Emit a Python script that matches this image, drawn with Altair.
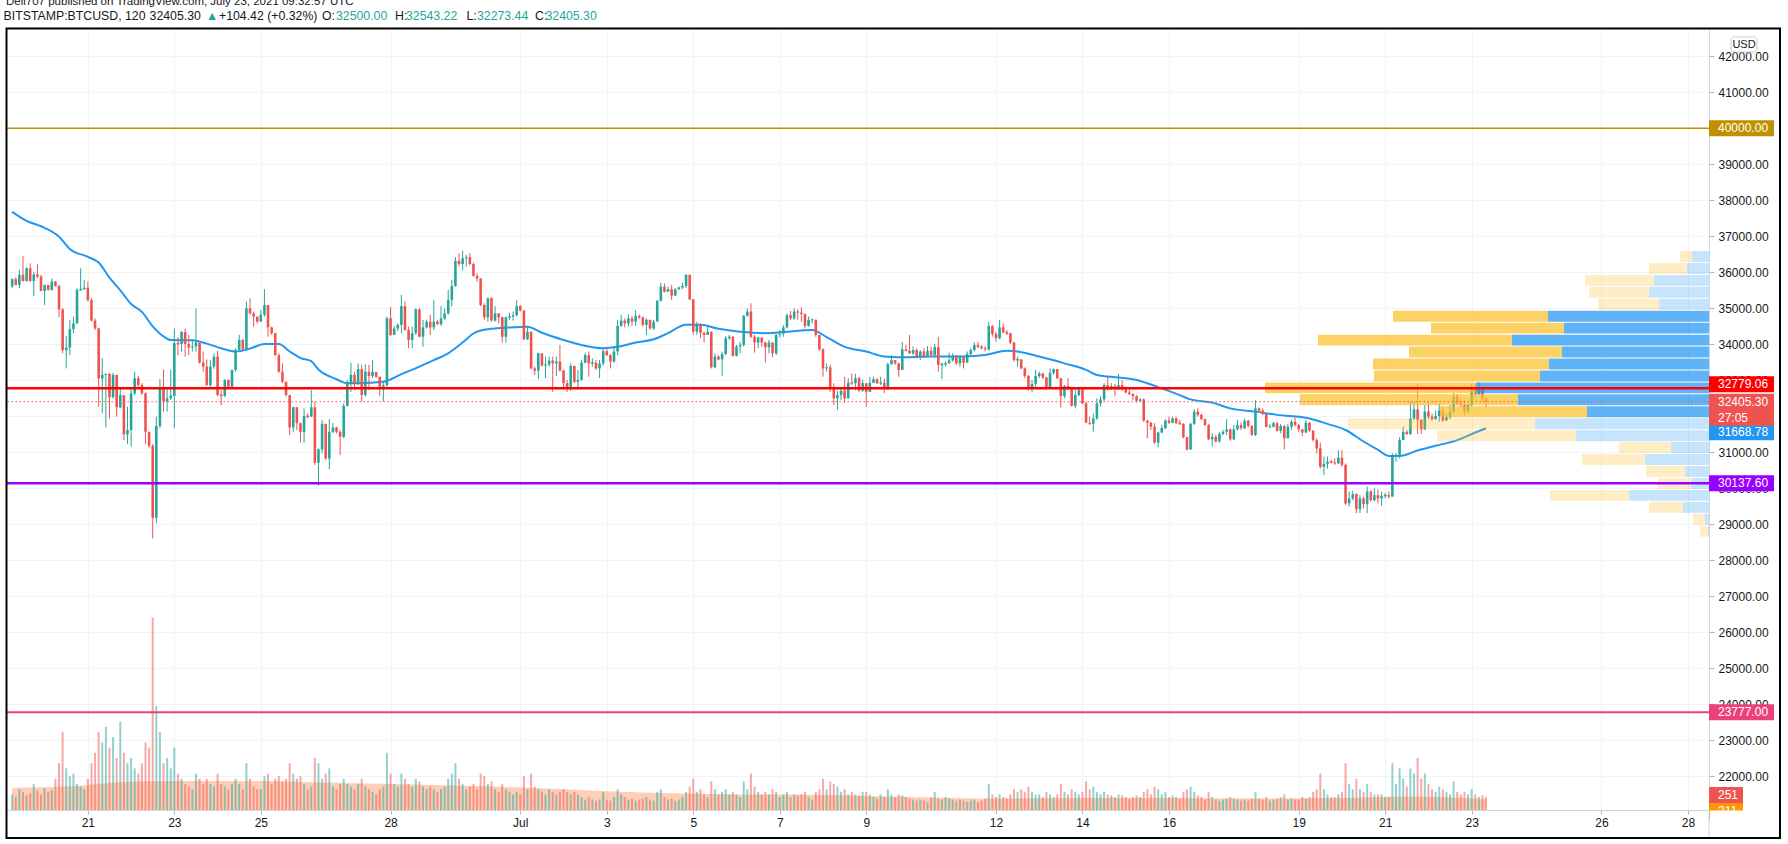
import altair as alt
import pandas as pd
from datetime import datetime, timedelta

# ---------------- data (BITSTAMP:BTCUSD, 2h candles) ----------------
START = "2021-06-19T06:00:00"
first_open = 35610
closes = [
35810, 35650, 35930, 35760, 36110, 35760, 35940, 35880, 35480, 35650,
35510, 35740, 35620, 34970, 33840, 33910, 34420, 34580, 35510, 35530,
35570, 35230, 34660, 34440, 33050, 33150, 33180, 32530, 33150, 32250,
32590, 31500, 31620, 32640, 33060, 32870, 32640, 31570, 31180, 29180,
31730, 32780, 32410, 32500, 32570, 34030, 34010, 34340, 34010, 33910,
33940, 34050, 33490, 33380, 32870, 33380, 33660, 32590, 32570, 33010,
32820, 33290, 33840, 34120, 33860, 35000, 34860, 34770, 34630, 34820,
35090, 34470, 34310, 33700, 33240, 32960, 32590, 31690, 32250, 31810,
31570, 32010,
31990, 32250, 30710, 31080, 31790, 30830, 31570, 31690, 31570, 31430,
32290, 32940, 33150, 32920, 33310, 32590, 33240, 33120, 33230, 33100,
32820, 32870, 34720, 34260, 34440, 34540, 35060, 34400, 34120, 34310,
34970, 34210, 34470, 34630, 34470, 34630, 34560, 34720, 34860, 35230,
35620, 36320, 36230, 36390, 36420, 36230, 35900, 35830, 35090, 34750,
35280, 34660, 34860, 34750, 34210, 34750, 34770, 34810, 35060, 34940,
34140, 34350, 33330, 33270, 33750, 33410, 33440, 33550, 33470, 33520,
33270, 32920, 32820, 33400, 32960, 33010, 33490, 33700, 33470, 33490,
33330, 33470,
33810, 33700, 33520, 33800, 34510, 34660, 34580, 34720, 34630, 34790,
34750, 34540, 34680, 34440, 34630, 35210, 35600, 35460, 35530, 35350,
35530, 35580, 35620, 35930, 35250, 34350, 34560, 34320, 34260, 34350,
33360, 33660, 33580, 33730, 34170, 34210, 33680, 33940, 33980, 34790,
34910, 34210, 34050, 34190, 34050, 33920, 34050, 33750, 34260, 34290,
34470, 34810, 34720, 34910, 34880, 34840, 34510, 34680, 34680, 34260,
33860, 33330, 33360, 32810, 32500, 32590, 32710, 32500, 32930, 32920,
33060, 32710, 32920, 32680, 32930, 33030, 32920, 32930, 32780, 33450,
33560, 33470, 33290,
33860, 33820, 33750, 33840, 33660, 33800, 33680, 33820, 33700, 33920,
33430, 33450, 33470, 33550, 33680, 33470, 33630, 33490, 33730, 33840,
33980, 33930, 33890, 33860, 34510, 34290, 34170, 34470, 34330, 34310,
34050, 33560, 33580, 33330, 33120, 32810, 32900, 33120, 33190, 33080,
32810, 33210, 33310, 33060, 32560, 32840, 32810, 32290, 32590, 32750,
32360, 31820, 31790, 31940, 32360, 32470, 32870, 32750, 32840, 32750,
32870, 32750, 32660, 32620, 32560, 32430, 32470, 31880, 31820, 31710,
31270, 31550, 31670, 31880, 31820, 31940, 31810, 31790, 31420, 31080,
31790, 32130, 32040,
31920, 31760, 31360, 31430, 31300, 31510, 31570, 31640, 31360, 31640,
31760, 31670, 31880, 31730, 31480, 32220, 32160, 32060, 31710, 31710,
31810, 31600, 31730, 31390, 31710, 31850, 31760, 31640, 31550, 31820,
31600, 31340, 31110, 30600, 30680, 30740, 30720, 30690, 30850, 30650,
29580, 29720, 29840, 29420, 29720, 29560, 29910, 29670, 29810, 29720,
29790, 29810, 29770, 30880, 30930, 31340, 31570, 31510, 31940, 32190,
31900, 31640, 32130, 31990, 31920, 32010, 32160, 31880, 31970, 32130,
32550, 32360, 32310, 32130, 32310, 32780, 32620, 32780, 32500, 32405.30,
]
highs = [
35830, 35860, 36070, 36450, 36140, 36250, 36020, 36230, 35930, 35650,
35650, 35830, 35760, 35650, 35000, 34230, 34680, 34770, 35560, 36110,
35790, 35740, 35280, 34720, 34460, 33610, 33190, 33210, 33210, 33150,
32820, 32590, 32270, 32820, 33240, 33120, 32920, 32660, 31570, 31230,
31990, 33030, 33300, 32820, 33290, 34440, 34210, 34370, 34440, 34260,
34120, 35000, 34060, 33800, 33580, 33560, 33750, 33820, 32730, 33030,
33030, 33290, 33890, 34260, 34150, 35190, 35280, 34910, 34770, 34950,
35530, 35090, 34490, 34310, 33750, 33470, 32960, 32590, 32270, 32260,
31820, 32220,
32080, 32730, 32410, 31110, 31900, 31760, 31920, 31810, 31710, 31620,
32360, 33010, 33490, 33240, 33470, 33430, 33450, 33430, 33560, 33240,
33030, 32960, 34770, 35030, 34510, 34580, 35370, 35190, 34490, 34490,
35000, 35000, 34680, 34680, 34820, 35230, 34680, 35060, 35000, 35510,
35790, 36420, 36530, 36600, 36480, 36530, 36270, 35970, 35810, 35140,
35300, 35310, 35060, 34860, 34770, 34770, 34880, 34910, 35230, 35090,
34950, 34490, 34350, 33380, 33770, 33700, 33660, 33660, 33660, 33660,
33980, 33290, 33010, 33470, 33400, 33290, 33560, 33770, 33800, 33610,
33560, 33560,
33890, 33910, 33730, 33890, 34680, 34820, 34720, 34830, 34790, 34950,
34830, 34770, 34720, 34680, 34680, 35230, 35710, 35690, 35600, 35650,
35560, 35600, 35710, 35950, 35930, 35250, 34630, 34580, 34350, 34510,
34350, 33750, 33700, 33800, 34230, 34260, 34230, 33980, 34070, 34820,
35000, 35140, 34260, 34210, 34170, 34070, 34120, 34050, 34290, 34400,
34540, 34860, 34930, 35000, 34970, 35030, 34860, 34770, 34720, 34690,
34260, 33890, 33470, 33430, 32920, 32710, 32750, 33100, 33060, 33190,
33180, 33100, 33010, 32920, 33100, 33100, 33060, 33100, 33050, 33490,
33700, 33560, 33490,
34070, 33980, 34260, 33940, 33890, 33840, 33890, 33950, 33930, 34010,
34210, 33490, 33520, 33770, 33750, 33700, 33700, 33660, 33800, 33890,
34050, 34070, 33980, 33950, 34630, 34540, 34350, 34680, 34580, 34400,
34320, 34070, 33660, 33580, 33360, 33150, 33010, 33290, 33240, 33210,
33100, 33330, 33330, 33310, 33060, 32870, 33060, 32820, 32780, 32820,
32780, 32410, 31990, 32080, 32500, 32550, 32920, 33100, 32920, 32900,
33180, 33010, 32820, 32730, 32640, 32590, 32500, 32500, 31900, 31850,
31810, 31570, 31760, 31920, 31990, 31990, 31990, 31900, 31810, 31430,
31820, 32200, 32220,
32080, 31940, 31790, 31530, 31480, 31570, 31620, 31920, 31660, 31760,
31900, 31820, 31940, 31900, 31760, 32450, 32250, 32220, 32080, 31790,
31850, 31850, 31790, 31760, 31790, 31900, 31970, 31790, 31640, 31900,
31850, 31620, 31390, 31270, 30880, 30880, 30790, 30830, 31060, 31060,
30690, 29910, 29930, 29860, 29810, 29770, 30050, 29950, 30000, 29970,
29910, 29880, 29910, 30970, 30970, 31420, 31710, 31620, 32410, 32410,
32900, 31920, 32310, 32410, 32080, 32160, 32340, 32270, 32080, 32310,
32640, 32620, 32500, 32450, 32360, 32920, 32900, 32940, 32690, 32543.22,
]
lows = [
35560, 35640, 35560, 35740, 35740, 35740, 35340, 35830, 35480, 35090,
35490, 35490, 35600, 34750, 33750, 33330, 33700, 34310, 34570, 35490,
35510, 35190, 34630, 34400, 32270, 32080, 31690, 31940, 32500, 31990,
32220, 31340, 31230, 31160, 32590, 32820, 32590, 31230, 31110, 28610,
29030, 31670, 32130, 32130, 32450, 31670, 33700, 33800, 33660, 33700,
33800, 33800, 33470, 33240, 32840, 32780, 33320, 32550, 32310, 32530,
32810, 32780, 33240, 33840, 33820, 33820, 34820, 34490, 34580, 34630,
34770, 34210, 34260, 33680, 33210, 32920, 32550, 31480, 31570, 31620,
31270, 31270,
31940, 31990, 30650, 30070, 30970, 30790, 30530, 31530, 31530, 30930,
31390, 32270, 32680, 32730, 32870, 32410, 32550, 32730, 33060, 33060,
32560, 32410, 32810, 34230, 34290, 34370, 34310, 34370, 33890, 33890,
34260, 34190, 33930, 34440, 34260, 34400, 34540, 34510, 34680, 34820,
35050, 35600, 36160, 36060, 36160, 36200, 35880, 35740, 35050, 34680,
34630, 34630, 34630, 34580, 34050, 34050, 34680, 34660, 34770, 34910,
34120, 34120, 33310, 33150, 33030, 33380, 33060, 33380, 32680, 33120,
33240, 32780, 32680, 32710, 32920, 32750, 32990, 33470, 33100, 33380,
33290, 33060,
33400, 33670, 33330, 33490, 33700, 34490, 34470, 34490, 34510, 34510,
34700, 34490, 34260, 34400, 34400, 34630, 35190, 35440, 35460, 35230,
35370, 35510, 35530, 35560, 35230, 34260, 34260, 34170, 34050, 34260,
33330, 33330, 33560, 33120, 33700, 34120, 33660, 33660, 33750, 33940,
34770, 34170, 33770, 33890, 33930, 33490, 33750, 33640, 33700, 34190,
34210, 34440, 34680, 34680, 34680, 34630, 34440, 34490, 34580, 34210,
33820, 33100, 33240, 32680, 32310, 32180, 32450, 32380, 32500, 32870,
32730, 32680, 32680, 32270, 32680, 32920, 32900, 32870, 32640, 32730,
33430, 33430, 33100,
33380, 33800, 33730, 33700, 33610, 33560, 33610, 33660, 33660, 33680,
33240, 33030, 33380, 33470, 33520, 33430, 33380, 33330, 33490, 33660,
33800, 33890, 33860, 33800, 33820, 34210, 34070, 34140, 34310, 34260,
34010, 33520, 33380, 33310, 33060, 32710, 32660, 32820, 33060, 33030,
32780, 32780, 33150, 33030, 32240, 32500, 32730, 32270, 32220, 32550,
32340, 31810, 31760, 31570, 31900, 32270, 32430, 32710, 32730, 32550,
32730, 32710, 32640, 32590, 32450, 32380, 32410, 31850, 31390, 31620,
31230, 31140, 31530, 31640, 31790, 31810, 31790, 31760, 31390, 31050,
31070, 31760, 31990,
31900, 31730, 31340, 31160, 31270, 31270, 31480, 31480, 31320, 31340,
31600, 31620, 31640, 31690, 31450, 31450, 32130, 32040, 31690, 31670,
31690, 31570, 31530, 31080, 31530, 31620, 31710, 31570, 31450, 31530,
31570, 31300, 30970, 30550, 30370, 30550, 30690, 30650, 30690, 30600,
29540, 29490, 29670, 29310, 29310, 29440, 29310, 29630, 29630, 29580,
29510, 29720, 29720, 29810, 30740, 30830, 31340, 31480, 31480, 31900,
31510, 31510, 31620, 31920, 31880, 31900, 31850, 31850, 31900, 31920,
32080, 32310, 32270, 32040, 32080, 32270, 32560, 32590, 32410, 32273.44,
]
volumes = [
300, 250, 400, 350, 280, 320, 500, 380, 300,
420, 350, 380, 600, 900, 1500, 800, 650, 700, 500, 450, 400,
600, 900, 1100, 1500, 1300, 1600, 1200, 1400, 1000, 1700, 1100, 900,
1000, 800, 700, 900, 1300, 1200, 3700, 2000, 1500, 900, 1000, 800,
1200, 700, 600, 500, 450, 400, 700, 600, 500, 600, 500, 450,
700, 500, 450, 400, 500, 600, 500, 400, 900, 600, 450, 400,
400, 650, 700, 500, 600, 650, 550, 600, 900, 700, 600, 650,
500, 400, 450, 1000, 900, 600, 700, 800, 450, 400, 500, 600,
500, 450, 400, 500, 600, 450, 400, 350, 300, 400, 450, 1100,
700, 500, 450, 700, 600, 500, 450, 600, 550, 450, 400, 450,
400, 350, 400, 450, 600, 700, 900, 600, 500, 400, 450, 500,
400, 700, 650, 500, 550, 400, 350, 500, 400, 350, 300, 350,
300, 650, 400, 700, 450, 400, 350, 300, 400, 350, 300, 350,
400, 350, 300, 350, 300, 250, 200, 250, 200, 180, 200, 350,
200, 180, 250, 400, 300, 250, 200, 220, 180, 200, 220, 250,
200, 180, 350, 400, 250, 200, 220, 180, 200, 250, 350, 450,
600, 350, 400, 300, 250, 550, 400, 300, 350, 400, 300, 350,
300, 250, 550, 400, 700, 450, 350, 300, 350, 300, 400, 350,
250, 300, 350, 250, 300, 280, 300, 350, 250, 200, 350, 400,
600, 400, 550, 500, 450, 350, 400, 300, 350, 300, 280, 350,
350, 300, 250, 220, 300, 250, 400, 300, 250, 300, 280, 250,
220, 200, 180, 200, 180, 150, 250, 350, 220, 200, 250, 220,
200, 180, 200, 180, 160, 180, 200, 150, 180, 220, 500, 300,
250, 300, 250, 220, 300, 400, 350, 400, 350, 450, 350, 300,
300, 250, 350, 300, 250, 300, 500, 350, 300, 400, 350, 300,
350, 550, 400, 450, 350, 300, 350, 300, 280, 250, 300, 280,
250, 220, 250, 280, 250, 350, 400, 300, 450, 400, 300, 350,
250, 280, 250, 220, 350, 400, 450, 350, 280, 250, 200, 350,
250, 200, 180, 200, 220, 250, 220, 200, 180, 200, 180, 220,
350, 220, 200, 250, 180, 200, 220, 250, 300, 200, 220, 200,
200, 250, 220, 250, 350, 400, 700, 400, 300, 250, 250, 300,
350, 900, 500, 400, 600, 400, 350, 500, 350, 300, 300, 300,
250, 250, 900, 500, 800, 600, 450, 800, 700, 1000, 600, 700,
500, 400, 350, 450, 400, 350, 300, 550, 350, 300, 350, 300,
400, 300, 250, 280, 251,
]

# moving average (blue line) read at sample times
ma_times = ["06-19 06", "06-19 14", "06-19 22", "06-20 08", "06-20 14", "06-21 00", "06-21 06", "06-21 12", "06-21 18", "06-22 00",
            "06-22 06", "06-22 12", "06-22 18", "06-22 22", "06-23 10", "06-23 18", "06-24 02", "06-24 10", "06-24 18", "06-25 02",
            "06-25 10", "06-25 16", "06-25 22", "06-26 04", "06-26 08", "06-26 18", "06-27 00", "06-27 06", "06-27 20", "06-28 06",
            "06-28 16", "06-29 00", "06-29 08", "06-29 16", "06-29 22", "06-30 06", "06-30 18", "07-01 04", "07-01 12", "07-02 00",
            "07-02 10", "07-02 22", "07-03 06", "07-03 16", "07-04 02", "07-04 10", "07-04 20", "07-05 04", "07-05 14", "07-06 02",
            "07-06 16", "07-07 04", "07-07 18", "07-08 02", "07-08 12", "07-09 00", "07-09 10", "07-09 18", "07-10 12", "07-11 06",
            "07-11 18", "07-12 06", "07-12 12", "07-13 00", "07-13 14", "07-14 02", "07-14 08", "07-14 20", "07-15 06", "07-15 18",
            "07-16 06", "07-16 12", "07-17 00", "07-17 10", "07-18 00", "07-18 12", "07-19 06", "07-19 16", "07-20 02", "07-20 12",
            "07-20 20", "07-21 02", "07-21 08", "07-21 18", "07-22 04", "07-22 16", "07-23 02", "07-23 08"]
ma_values = [37680, 37430, 37280, 36990, 36650, 36430, 36270, 35850, 35500, 35120,
             34900, 34500, 34220, 34120, 34110, 34020, 33890, 33800, 33880, 34010,
             34010, 33800, 33620, 33530, 33300, 33030, 32920, 32920, 32960, 33170,
             33380, 33560, 33750, 34050, 34300, 34420, 34470, 34490, 34320, 34120,
             33980, 33890, 33930, 34050, 34140, 34310, 34540, 34540, 34430, 34350,
             34310, 34350, 34400, 34200, 33930, 33800, 33660, 33640, 33660, 33660,
             33700, 33820, 33800, 33660, 33470, 33290, 33150, 33080, 33010, 32810,
             32590, 32470, 32380, 32220, 32130, 32040, 31940, 31790, 31620, 31300,
             31070, 30900, 30900, 31050, 31180, 31340, 31550, 31668.78]

# volume moving average (orange area)
vma_times = ["06-19 06", "06-20 12", "06-21 12", "06-22 12", "06-24 00", "06-26 00", "06-28 00", "06-30 00", "07-02 00", "07-04 00",
             "07-06 00", "07-08 00", "07-10 00", "07-12 00", "07-14 00", "07-16 00", "07-18 00", "07-20 00", "07-21 12", "07-23 08"]
vma_values = [430, 450, 520, 560, 560, 540, 500, 460, 400, 330, 300, 290, 250, 220, 230, 230, 220, 230, 260, 211]

# visible-range volume profile: row lower edge, up volume, down volume, in value area
vp_low = [28656, 28988, 29320, 29651, 29983, 30315, 30647, 30979, 31310, 31642, 31974, 32306,
          32638, 32969, 33301, 33633, 33965, 34297, 34628, 34960, 35292, 35624, 35956, 36287]
vp_row = 331.8
vp_up = [10, 40, 260, 800, 180, 240, 640, 380, 1330, 1740, 1220, 1910,
         2330, 1690, 1600, 1470, 1970, 1450, 1610, 500, 600, 550, 220, 170]
vp_dn = [80, 120, 340, 790, 330, 390, 630, 520, 1390, 1870, 1470, 2180,
         2110, 1660, 1760, 1530, 1940, 1330, 1550, 610, 600, 690, 380, 120]
vp_va = [0, 0, 0, 0, 0, 0, 0, 0, 0, 0, 1, 1, 1, 1, 1, 1, 1, 1, 1, 0, 0, 0, 0, 0]

levels = [40000.00, 32779.06, 30137.60, 23777.00]
last_price = 32405.30

# ---------------- frames ----------------
n = len(closes)
t0 = datetime.fromisoformat(START)
times = [(t0 + timedelta(hours=2 * i)).strftime("%Y-%m-%dT%H:%M:%SZ") for i in range(n)]
opens = [first_open] + closes[:-1]
df = pd.DataFrame({"t": times, "o": opens, "h": highs, "l": lows, "c": closes, "v": volumes})
df["h"] = df[["h", "o", "c"]].max(axis=1)
df["l"] = df[["l", "o", "c"]].min(axis=1)
df["b1"] = df[["o", "c"]].max(axis=1)
df["b2"] = df[["o", "c"]].min(axis=1)
small = (df["b1"] - df["b2"]) < 24
df.loc[small, "b1"] = df.loc[small, "b1"] + 12
df.loc[small, "b2"] = df.loc[small, "b2"] - 12

def iso(s):
    return "2021-" + s[:5] + "T" + s[6:8] + ":00:00Z"

dfma = pd.DataFrame({"t": [iso(s) for s in ma_times], "ma": ma_values})
dfvma = pd.DataFrame({"t": [iso(s) for s in vma_times], "v": vma_values})

rows = []
for lo, u, d, va in zip(vp_low, vp_up, vp_dn, vp_va):
    rows.append({"lo": lo, "hi": lo + vp_row, "x0": 0, "x1": u, "k": "up_va" if va else "up"})
    rows.append({"lo": lo, "hi": lo + vp_row, "x0": u, "x1": u + d, "k": "dn_va" if va else "dn"})
dfvp = pd.DataFrame(rows)

# ---------------- scales / axes ----------------
W, H = 1702, 780
FONT = "Liberation Sans"
epoch = datetime(1970, 1, 1)
day0 = datetime(2021, 6, 21)
def ms(d):
    return int((d - epoch).total_seconds() * 1000)
x_dom = [ms(day0 - timedelta(days=76.3 / 43.5)), ms(day0 + timedelta(days=(W - 76.3) / 43.5))]
xs = alt.Scale(type="utc", domain=x_dom)
ys = alt.Scale(domain=[21064, 42731], nice=False, zero=False)
vs = alt.Scale(domain=[0, 15000], nice=False)
vps = alt.Scale(domain=[0, 17020], reverse=True, nice=False, zero=False)

tick_days = [(6, 21), (6, 23), (6, 25), (6, 28), (7, 1), (7, 3), (7, 5), (7, 7), (7, 9),
             (7, 12), (7, 14), (7, 16), (7, 19), (7, 21), (7, 23), (7, 26), (7, 28)]
xticks = [alt.DateTime(year=2021, month=m, date=d, utc=True) for m, d in tick_days]
x_axis = alt.Axis(values=xticks, title=None, grid=True, gridColor="#F0F3FA", gridWidth=1,
                  tickSize=4, tickColor="#B2B5BE", domainColor="#D1D4DC", labelColor="#131722",
                  labelFontSize=12, labelFont=FONT, labelPadding=3, labelFlush=False, labelOverlap=False,
                  labelExpr="utcdate(datum.value) == 1 ? utcFormat(datum.value, '%b') : utcFormat(datum.value, '%-d')")
y_axis = alt.Axis(orient="right", values=list(range(22000, 42001, 1000)), format=".2f", title=None,
                  grid=True, gridColor="#F0F3FA", gridWidth=1, tickSize=5, tickColor="#B2B5BE",
                  domainColor="#D1D4DC", labelColor="#131722", labelFontSize=12, labelFont=FONT,
                  labelPadding=4, labelOverlap=False, labelFlush=False)

UP, DOWN = "#26A69A", "#EF5350"
cond = alt.condition("datum.c >= datum.o", alt.value(UP), alt.value(DOWN))
one = pd.DataFrame({"z": [0]})

# ---------------- A: volume ----------------
vx = alt.X("t:T", scale=xs, axis=None)
vol_area = alt.Chart(dfvma).mark_area(color="#FF8A50", opacity=0.42, interpolate="monotone", clip=True).encode(
    x=vx, y=alt.Y("v:Q", scale=vs, axis=None))
vol_bars = alt.Chart(df).mark_bar(size=2, opacity=0.5, clip=True).encode(
    x=vx, y=alt.Y("v:Q", scale=vs, axis=None), color=cond)
vlab = pd.DataFrame({"v": [251]})
vlab2 = pd.DataFrame({"v": [211]})
vol_l1 = alt.Chart(vlab).mark_rect(color="#EF5350", yOffset=-10, y2Offset=6).encode(
    x=alt.value(1702), x2=alt.value(1736), y=alt.Y("v:Q", scale=vs, axis=None), y2="v:Q")
vol_t1 = alt.Chart(vlab).mark_text(text="251", color="white", align="left", baseline="middle", dy=-2,
                                    fontSize=12, font=FONT).encode(x=alt.value(1711), y=alt.Y("v:Q", scale=vs, axis=None))
vol_l2 = alt.Chart(vlab2).mark_rect(color="#FF9800", yOffset=4, y2Offset=20).encode(
    x=alt.value(1702), x2=alt.value(1736), y=alt.Y("v:Q", scale=vs, axis=None), y2="v:Q")
vol_t2 = alt.Chart(vlab2).mark_text(text="211", color="white", align="left", baseline="middle", dy=12,
                                     fontSize=12, font=FONT).encode(x=alt.value(1711), y=alt.Y("v:Q", scale=vs, axis=None))
cover = alt.Chart(one).mark_rect(color="white").encode(
    x=alt.value(1703), x2=alt.value(1772), y=alt.value(780.5), y2=alt.value(807))
A = alt.layer(vol_area, vol_bars, vol_l1, vol_t1, vol_l2, vol_t2, cover)

# ---------------- B: price (axes, MA, candles) ----------------
bx = alt.X("t:T", scale=xs, axis=x_axis)
ma_line = alt.Chart(dfma).mark_line(color="#2196F3", strokeWidth=2, interpolate="monotone", clip=True).encode(
    x=bx, y=alt.Y("ma:Q", scale=ys, axis=y_axis))
wicks = alt.Chart(df).mark_rule(strokeWidth=1, clip=True).encode(
    x=bx, y=alt.Y("l:Q", scale=ys, axis=y_axis), y2="h:Q", color=cond)
bodies = alt.Chart(df).mark_bar(size=2.6, clip=True).encode(
    x=bx, y=alt.Y("b1:Q", scale=ys, axis=y_axis), y2="b2:Q", color=cond)
B = alt.layer(ma_line, wicks, bodies)

# ---------------- C: volume profile ----------------
C = alt.Chart(dfvp).mark_bar(y2Offset=1, clip=True).encode(
    x=alt.X("x0:Q", scale=vps, axis=None), x2="x1:Q",
    y=alt.Y("lo:Q", scale=ys, axis=None), y2="hi:Q",
    color=alt.Color("k:N", legend=None, scale=alt.Scale(
        domain=["up_va", "dn_va", "up", "dn"],
        range=["rgba(33,150,243,0.72)", "rgba(251,192,45,0.72)", "rgba(33,150,243,0.26)", "rgba(251,192,45,0.28)"])))

# ---------------- D: levels, labels, header, frame ----------------
def hline(price, color, width, dash=None):
    kw = dict(color=color, strokeWidth=width)
    if dash:
        kw["strokeDash"] = dash
    return alt.Chart(pd.DataFrame({"p": [price]})).mark_rule(**kw).encode(y=alt.Y("p:Q", scale=ys, axis=None))

def plabel(price, txt, color, top, bot, dy, extra=None):
    d = pd.DataFrame({"p": [price]})
    out = [alt.Chart(d).mark_rect(color=color, yOffset=top, y2Offset=bot).encode(
               x=alt.value(1702), x2=alt.value(1767), y=alt.Y("p:Q", scale=ys, axis=None), y2="p:Q"),
           alt.Chart(d).mark_text(text=txt, color="white", align="left", baseline="middle", dy=dy,
                                  fontSize=12, font=FONT).encode(x=alt.value(1711), y=alt.Y("p:Q", scale=ys, axis=None))]
    if extra:
        out.append(alt.Chart(d).mark_text(text=extra, color="white", align="left", baseline="middle", dy=dy + 16,
                                          fontSize=12, font=FONT).encode(x=alt.value(1711), y=alt.Y("p:Q", scale=ys, axis=None)))
    return out

def htext(txt, xfull, color, ybase=19.5, size=12.3):
    return alt.Chart(one).mark_text(text=txt, align="left", baseline="alphabetic", fontSize=size, font=FONT,
                                    color=color).encode(x=alt.value(xfull - 7), y=alt.value(ybase - 30))

D_layers = [
    hline(levels[0], "#BF9000", 1.5),
    hline(levels[3], "#EC407A", 2),
    hline(levels[2], "#9900FF", 2.5),
    hline(levels[1], "#FF0000", 2.5),
    hline(last_price, "#EF5350", 1, [1.5, 2.5]),
]
D_layers += plabel(levels[0], "40000.00", "#BF9000", -8, 8, 0)
D_layers += plabel(levels[3], "23777.00", "#EC407A", -8, 8, 0)
D_layers += plabel(levels[2], "30137.60", "#9900FF", -8, 8, 0)
D_layers += plabel(31668.78, "31668.78", "#2196F3", -4, 12, 4)
D_layers += plabel(levels[1], "32779.06", "#FF0000", -12, 4, -4)
D_layers += plabel(last_price, "32405.30", "#EF5350", -8, 24, 0, extra="27:05")

# separators / frame / currency badge
D_layers.append(alt.Chart(one).mark_rule(color="#D1D4DC", strokeWidth=1).encode(
    x=alt.value(1702), y=alt.value(780), y2=alt.value(808)))
D_layers.append(alt.Chart(one).mark_rect(fill="white", stroke="#C9CCD3", strokeWidth=1, cornerRadius=3).encode(
    x=alt.value(1724), x2=alt.value(1750), y=alt.value(7), y2=alt.value(22)))
D_layers.append(alt.Chart(one).mark_text(text="USD", align="center", baseline="middle", fontSize=11, font=FONT,
                                         color="#131722").encode(x=alt.value(1737), y=alt.value(15)))
D_layers.append(alt.Chart(one).mark_rect(fillOpacity=0, stroke="black", strokeWidth=2).encode(
    x=alt.value(-0.5), x2=alt.value(1773), y=alt.value(-1.5), y2=alt.value(808)))

# header
DARK, TEAL = "#131722", "#26A69A"
D_layers.append(htext("Dell707 published on TradingView.com, July 23, 2021 09:32:57 UTC", 6, DARK, ybase=5, size=11.5))
for txt, xf, col in [("BITSTAMP:BTCUSD, 120", 3.6, DARK), ("32405.30", 149.6, DARK), ("\u25B2", 206, TEAL),
                     ("+104.42 (+0.32%)", 219, DARK), ("O:", 322, DARK), ("32500.00", 336, TEAL),
                     ("H:", 395, DARK), ("32543.22", 406, TEAL), ("L:", 466.5, DARK), ("32273.44", 477, TEAL),
                     ("C:", 535, DARK), ("32405.30", 545.5, TEAL)]:
    D_layers.append(htext(txt, xf, col))
D = alt.layer(*D_layers)

chart = alt.layer(A, B, C, D).resolve_scale(x="independent", y="independent").properties(
    width=W, height=H,
    padding={"left": 7, "top": 30, "right": 79, "bottom": 34},
    autosize=alt.AutoSizeParams(type="none"),
    background="white",
).configure_view(strokeWidth=0)

chart.save("out.html", embed_options={"renderer": "svg", "actions": False})
